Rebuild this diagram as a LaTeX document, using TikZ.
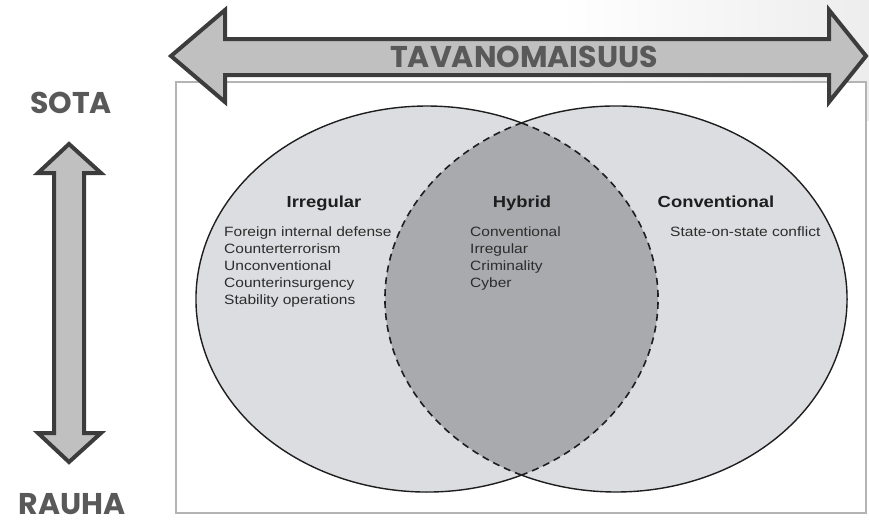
\documentclass[tikz,border=0pt]{standalone}
\usepackage{fontspec}
\newfontfamily\gothic{Poppins}
\newfontfamily\arialx[FakeStretch=1.15]{Liberation Sans}
\definecolor{arrowfill}{HTML}{C0C0C0}
\definecolor{arrowedge}{HTML}{3C3C3C}
\definecolor{labelgray}{HTML}{595959}
\definecolor{boxgray}{HTML}{B4B4B4}
\definecolor{circfill}{HTML}{DCDDE0}
\definecolor{lensfill}{HTML}{A8AAAD}
\definecolor{inkdark}{HTML}{1E1E1E}
\definecolor{inklist}{HTML}{2C2C2C}
\definecolor{bgshade}{HTML}{EDEDED}
\tikzset{
  bigarrow/.style={fill=arrowfill, draw=arrowedge, line width=4pt, line join=miter},
  biglabel/.style={font=\gothic\bfseries\fontsize{30}{30}\selectfont, text=labelgray, inner sep=0pt, anchor=base},
  heading/.style={font=\arialx\bfseries\fontsize{16}{16}\selectfont, text=inkdark, inner sep=0pt, anchor=base},
  listitem/.style={font=\arialx\fontsize{13.5}{13.5}\selectfont, text=inklist, inner sep=0pt, anchor=base west},
  outline/.style={draw=inkdark, line width=1.4pt},
  lensline/.style={draw=inkdark, line width=1.6pt, dash pattern=on 7pt off 5pt}
}
\begin{document}
\begin{tikzpicture}[x=1pt,y=-1pt]
\useasboundingbox (0,0) rectangle (869,523);
% faint background shading at top right
\shade[left color=white, right color=bgshade] (560,0) rectangle (869,120);
% frame
\draw[draw=boxgray, line width=1.5pt, fill=white] (176,82) rectangle (866,513);
% circles
\fill[circfill] (427,299) ellipse [x radius=231, y radius=193];
\fill[circfill] (616,299) ellipse [x radius=231, y radius=193];
\begin{scope}
  \clip (427,299) ellipse [x radius=231, y radius=193];
  \fill[lensfill] (616,299) ellipse [x radius=231, y radius=193];
\end{scope}
% outer solid arcs
\draw[outline] ([shift={(427,299)}]65.85:231 and 193) arc[start angle=65.85, end angle=294.15, x radius=231, y radius=193];
\draw[outline] ([shift={(616,299)}]-114.15:231 and 193) arc[start angle=-114.15, end angle=114.15, x radius=231, y radius=193];
% inner dashed arcs
\draw[lensline] ([shift={(427,299)}]-65.85:231 and 193) arc[start angle=-65.85, end angle=65.85, x radius=231, y radius=193];
\draw[lensline] ([shift={(616,299)}]114.15:231 and 193) arc[start angle=114.15, end angle=245.85, x radius=231, y radius=193];
% horizontal arrow
\draw[bigarrow] (171,56) -- (225,10) -- (225,39) -- (829,39) -- (829,10) -- (866,56) -- (829,102) -- (829,75) -- (225,75) -- (225,102) -- cycle;
\node[biglabel] (tav) at (524,67.5) {TAVANOMAISUUS};
% vertical arrow
\draw[bigarrow] (69,144) -- (101,173) -- (84,173) -- (84,433) -- (101,433) -- (69,462) -- (38,433) -- (54,433) -- (54,173) -- (38,173) -- cycle;
\node[biglabel] (sota) at (71,113) {SOTA};
\node[biglabel] (rauha) at (72,514) {RAUHA};
% headings
\node[heading] (irr) at (324,207) {Irregular};
\node[heading] (hyb) at (522,207) {Hybrid};
\node[heading] (conv) at (716,207) {Conventional};
% lists
\node[listitem] (i1) at (224,236.5) {Foreign internal defense};
\node[listitem] (i2) at (224,253.5) {Counterterrorism};
\node[listitem] (i3) at (224,270.5) {Unconventional};
\node[listitem] (i4) at (224,287.5) {Counterinsurgency};
\node[listitem] (i5) at (224,304.5) {Stability operations};
\node[listitem] (h1) at (470,236.5) {Conventional};
\node[listitem] (h2) at (470,253.5) {Irregular};
\node[listitem] (h3) at (470,270.5) {Criminality};
\node[listitem] (h4) at (470,287.5) {Cyber};
\node[listitem] (c1) at (670,236.5) {State-on-state conflict};
\end{tikzpicture}
\end{document}
